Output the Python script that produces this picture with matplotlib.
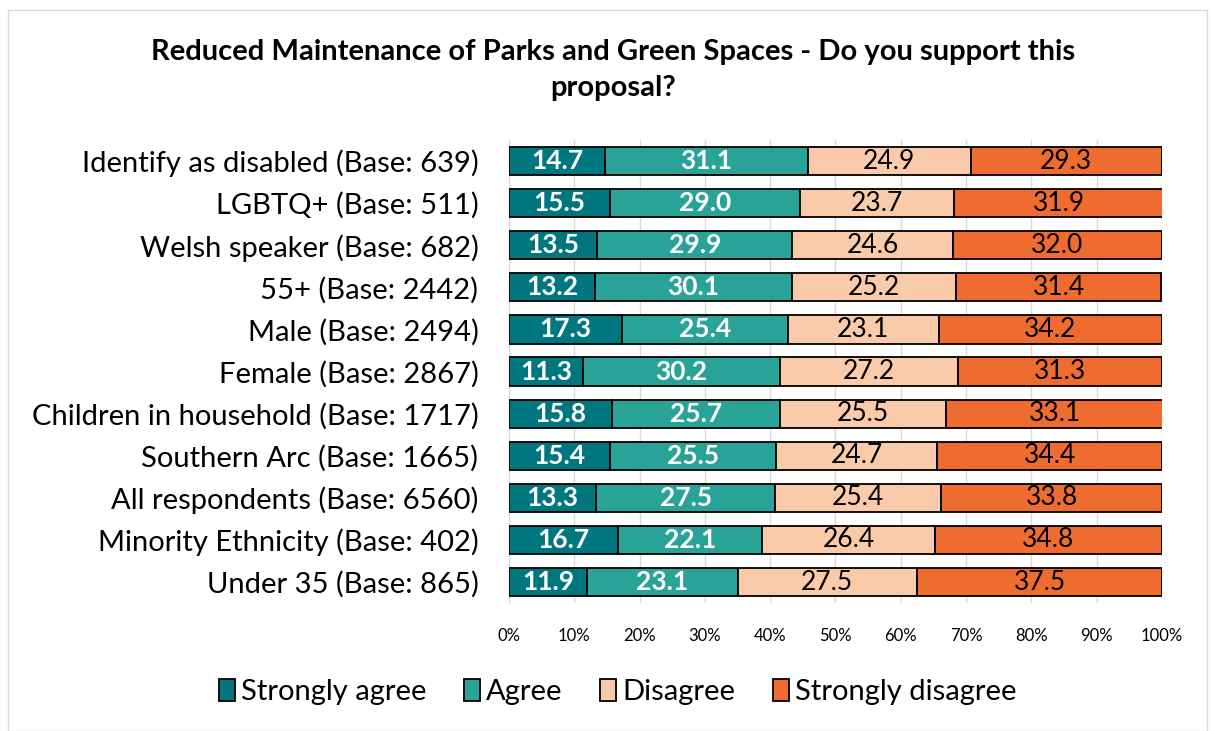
import numpy as np
import matplotlib.pyplot as plt
from matplotlib.patches import Rectangle

plt.rcParams['font.family'] = ['Lato', 'DejaVu Sans']

groups = ['Identify as disabled (Base: 639)', 'LGBTQ+ (Base: 511)',
          'Welsh speaker (Base: 682)', '55+ (Base: 2442)', 'Male (Base: 2494)',
          'Female (Base: 2867)', 'Children in household (Base: 1717)',
          'Southern Arc (Base: 1665)', 'All respondents (Base: 6560)',
          'Minority Ethnicity (Base: 402)', 'Under 35 (Base: 865)']
strongly_agree = [14.7, 15.5, 13.5, 13.2, 17.3, 11.3, 15.8, 15.4, 13.3, 16.7, 11.9]
agree = [31.1, 29.0, 29.9, 30.1, 25.4, 30.2, 25.7, 25.5, 27.5, 22.1, 23.1]
disagree = [24.9, 23.7, 24.6, 25.2, 23.1, 27.2, 25.5, 24.7, 25.4, 26.4, 27.5]
strongly_disagree = [29.3, 31.9, 32.0, 31.4, 34.2, 31.3, 33.1, 34.4, 33.8, 34.8, 37.5]
series_names = ['Strongly agree', 'Agree', 'Disagree', 'Strongly disagree']
colors = ['#00777F', '#29A397', '#F9CBAA', '#EE6C2F']
text_colors = ['white', 'white', 'black', 'black']
weights = ['bold', 'bold', 'normal', 'normal']

fig = plt.figure(figsize=(12.11, 7.31), dpi=100)
ax = fig.add_axes([0.4203, 0.175, 0.5392, 0.6335])

fig.patches.append(Rectangle((0.007, 0.0), 0.99, 0.986, transform=fig.transFigure,
                             fill=False, edgecolor='#D9D9D9', linewidth=1))

y = np.arange(len(groups))[::-1]
left = np.zeros(len(groups))
for vals, name, c, tc, w in zip([strongly_agree, agree, disagree, strongly_disagree],
                                series_names, colors, text_colors, weights):
    vals = np.array(vals)
    ax.barh(y, vals, left=left, height=0.67, color=c, edgecolor='black',
            linewidth=1.3, label=name, zorder=3)
    for yi, l, v in zip(y, left, vals):
        ax.text(l + v / 2, yi, f'{v:.1f}', ha='center', va='center',
                color=tc, fontsize=19, fontweight=w, zorder=4)
    left = left + vals

ax.set_xlim(0, 100)
ax.set_ylim(-0.5, len(groups) - 0.5)
ax.set_xticks(np.arange(0, 101, 10))
ax.set_xticklabels([f'{t}%' for t in range(0, 101, 10)], fontsize=12)
ax.set_yticks(y)
ax.set_yticklabels(groups, fontsize=21)
ax.tick_params(axis='both', length=0)
ax.tick_params(axis='x', pad=18)
ax.tick_params(axis='y', pad=22)
ax.grid(axis='x', color='#D9D9D9', linewidth=1, zorder=0)
for s in ['top', 'right', 'bottom']:
    ax.spines[s].set_visible(False)
ax.spines['left'].set_color('#D9D9D9')

fig.text(0.506, 0.904, 'Reduced Maintenance of Parks and Green Spaces - Do you support this\nproposal?',
         ha='center', va='center', fontsize=21, fontweight='bold', linespacing=1.5)

fig.legend(loc='center', bbox_to_anchor=(0.51, 0.053), ncol=4, frameon=False,
           fontsize=21, handlelength=0.55, handleheight=0.8, handletextpad=0.2,
           columnspacing=1.3)

fig.savefig('out.png', dpi=100)
